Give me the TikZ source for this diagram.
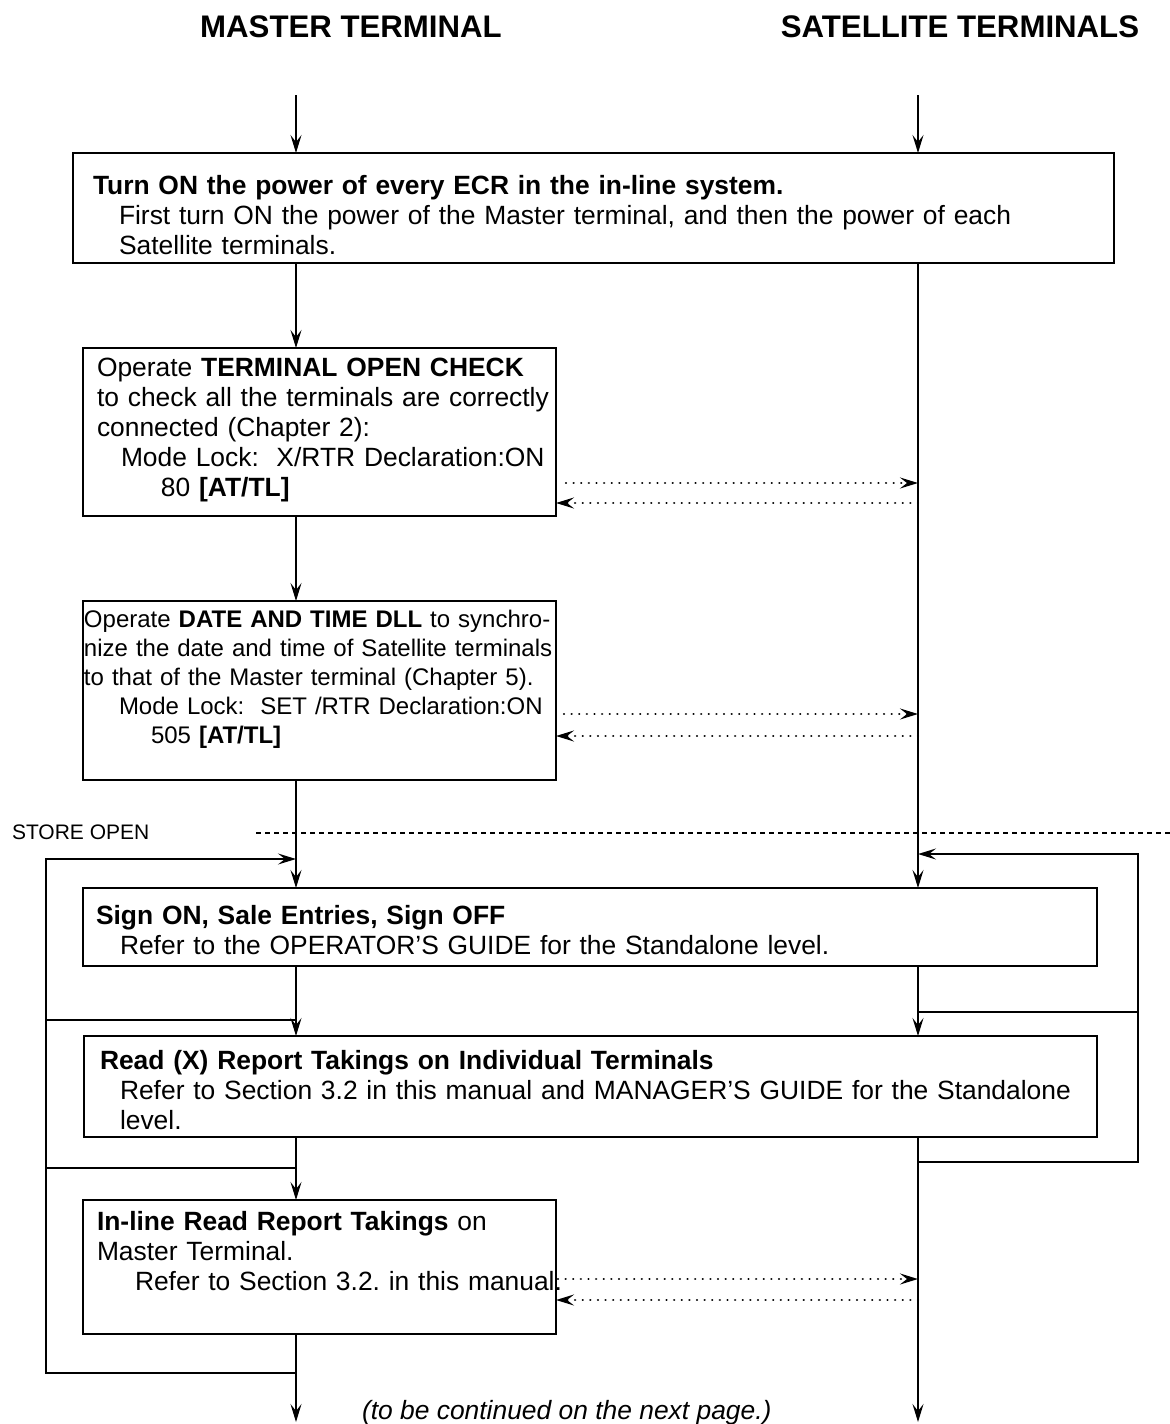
\documentclass[tikz,border=0pt]{standalone}
\usepackage{fontspec}
\setmainfont{Liberation Sans}
\usetikzlibrary{arrows.meta,positioning,calc}
\frenchspacing

\begin{document}
\begin{tikzpicture}[x=0.5pt, y=-0.5pt, line width=0.75pt,
  every node/.style={inner sep=0pt, outer sep=0pt},
  box/.style={draw, anchor=north west, align=left, inner sep=0pt, font=\fontsize{13.2}{15}\selectfont},
  head/.style={anchor=base, font=\fontsize{15.6}{18}\selectfont\bfseries},
  arr/.style={-{Stealth[length=9pt,width=5.5pt,inset=3.5pt]}},
  dotarr/.style={arr, line width=1.2pt, dash pattern=on 0.01pt off 3.8pt, line cap=round},
  opendash/.style={line width=1pt, dash pattern=on 2.5pt off 2pt}]
\useasboundingbox (0,0) rectangle (1170,1424);
\node[head] (mh) at (351,37) {MASTER TERMINAL};
\node[head] (sh) at (960,37) {SATELLITE TERMINALS};
\coordinate (mx) at (296,0);
\coordinate (sx) at (918,0);
\coordinate (mtop) at (296,95);
\coordinate (stop) at (918,95);
\coordinate (mend) at (296,1422);
\coordinate (send) at (918,1422);

\node[box, text width=520.5pt, minimum height=55pt] (b1) at (73,153) {\hspace*{10pt}\rule{0pt}{17pt}\textbf{Turn ON the power of every ECR in the in-line system.}\\
\hspace*{23pt}First turn ON the power of the Master terminal, and then the power of each\\
\hspace*{23pt}Satellite terminals.};
\node[box, text width=236.5pt, minimum height=84pt] (b2) at (83,348) {\hspace*{7pt}Operate \textbf{TERMINAL OPEN CHECK}\\
\hspace*{7pt}\mbox{to check all the terminals are correctly}\\
\hspace*{7pt}connected (Chapter 2):\\
\hspace*{19pt}Mode Lock:\ \ X/RTR Declaration:ON\\
\hspace*{39pt}80 \textbf{[AT/TL]}\rule[-4.5pt]{0pt}{4.5pt}};
\node[box, text width=236.5pt, minimum height=89.5pt, font=\fontsize{12}{14.4}\selectfont] (b3) at (83,601) {\hspace*{0.5pt}\mbox{Operate \textbf{DATE AND TIME DLL} to synchro-}\\
\hspace*{0.5pt}\mbox{nize the date and time of Satellite terminals}\\
\hspace*{0.5pt}to that of the Master terminal (Chapter 5).\\
\hspace*{18pt}Mode Lock:\ \ SET /RTR Declaration:ON\\
\hspace*{34pt}505 \textbf{[AT/TL]}\rule[-13.75pt]{0pt}{13.75pt}};
\node[box, text width=507pt, minimum height=39pt] (b4) at (83,888) {\hspace*{6.5pt}\rule{0pt}{12.7pt}\textbf{Sign ON, Sale Entries, Sign OFF}\\
\hspace*{18.5pt}Refer to the OPERATOR'S GUIDE for the Standalone level.};
\node[box, text width=506.5pt, minimum height=50.5pt] (b5) at (84,1036) {\hspace*{8pt}\rule{0pt}{13.5pt}\textbf{Read (X) Report Takings on Individual Terminals}\\
\hspace*{18pt}Refer to Section 3.2 in this manual and MANAGER'S GUIDE for the Standalone\\
\hspace*{18pt}level.};
\node[box, text width=236.5pt, minimum height=67pt] (b6) at (83,1200) {\hspace*{7pt}\textbf{In-line Read Report Takings} on\\
\hspace*{7pt}Master Terminal.\\
\hspace*{26pt}\mbox{Refer to Section 3.2. in this manual.}\rule[-15.7pt]{0pt}{15.7pt}};

\draw[arr] (mtop) -- (mtop |- b1.north);
\draw[arr] (stop) -- (stop |- b1.north);
\draw[arr] (b1.south -| mx) -- (b2.north -| mx);
\draw[arr] (b2.south -| mx) -- (b3.north -| mx);
\draw[arr] (b3.south -| mx) -- (b4.north -| mx);
\draw[arr] (b4.south -| mx) -- (b5.north -| mx);
\draw[arr] (b5.south -| mx) -- (b6.north -| mx);
\draw[arr] (b6.south -| mx) -- (mend);
\draw[arr] (b1.south -| sx) -- (b4.north -| sx);
\draw[arr] (b4.south -| sx) -- (b5.north -| sx);
\draw[arr] (b5.south -| sx) -- (send);

\coordinate (d2) at ([shift={(10,-33)}]b2.south east);
\coordinate (e2) at ([shift={(0,-13)}]b2.south east);
\coordinate (d3) at ([shift={(8,-66)}]b3.south east);
\coordinate (e3) at ([shift={(0,-44)}]b3.south east);
\coordinate (d6) at ([shift={(2,-55)}]b6.south east);
\coordinate (e6) at ([shift={(0,-34)}]b6.south east);
\draw[dotarr] (d2) -- (d2 -| sx);
\draw[dotarr] (e2 -| sx) -- (e2);
\draw[dotarr] (d3) -- (d3 -| sx);
\draw[dotarr] (e3 -| sx) -- (e3);
\draw[dotarr] (d6) -- (d6 -| sx);
\draw[dotarr] (e6 -| sx) -- (e6);

\node[anchor=base west, font=\fontsize{10.5}{12}\selectfont] (so) at (12,839) {STORE OPEN};
\coordinate (sl) at (256,833);
\coordinate (sr) at (1170,833);
\draw[opendash] (sl) -- (sr);

\coordinate (lx) at (46,0);
\coordinate (rx) at (1138,0);
\coordinate (l0) at (296,859);
\coordinate (l1) at (296,1020);
\coordinate (l2) at (296,1168);
\coordinate (l3) at (296,1373);
\draw[arr] (l3) -- (l3 -| lx) -- (l0 -| lx) -- (l0);
\draw (l1) -- (l1 -| lx);
\draw (l2) -- (l2 -| lx);
\coordinate (r0) at (918,854);
\coordinate (r1) at (918,1012);
\coordinate (r2) at (918,1162);
\draw[arr] (r2) -- (r2 -| rx) -- (r0 -| rx) -- (r0);
\draw (r1) -- (r1 -| rx);

\node[anchor=base west, font=\fontsize{13.2}{16}\selectfont\itshape] (cont) at (362,1419) {(to be continued on the next page.)};
\end{tikzpicture}
\end{document}
